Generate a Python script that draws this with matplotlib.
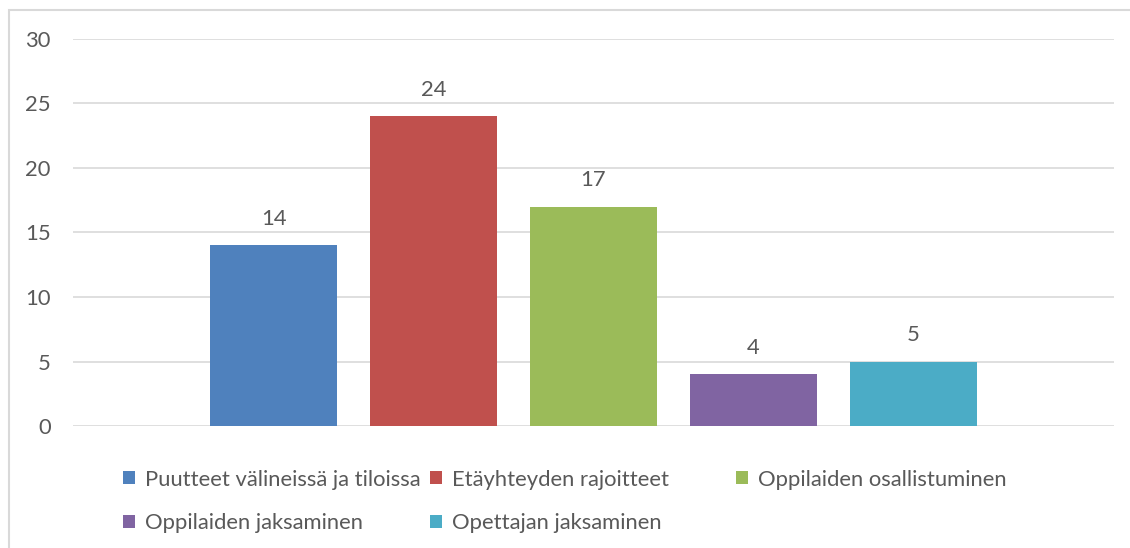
import matplotlib.pyplot as plt
from matplotlib.patches import Rectangle

# data
labels = ['Puutteet välineissä ja tiloissa', 'Etäyhteyden rajoitteet',
          'Oppilaiden osallistuminen', 'Oppilaiden jaksaminen', 'Opettajan jaksaminen']
values = [14, 24, 17, 4, 5]
colors = ['#4F81BD', '#C0504D', '#9BBB59', '#8064A2', '#4BACC6']
yticks = [0, 5, 10, 15, 20, 25, 30]

txt = '#595959'
grid = '#D9D9D9'
plt.rcParams['font.family'] = ['Lato', 'DejaVu Sans']
fs = 15.8

fig = plt.figure(figsize=(11.3, 5.48), dpi=100)
ax = fig.add_axes([73 / 1130, 1 - 426 / 548, (1114 - 73) / 1130, (426 - 39) / 548])

# outer chart border
fig.patches.append(Rectangle((9 / 1130, -0.5), 2, 0.5 + (1 - 10 / 548),
                             transform=fig.transFigure, fill=False,
                             edgecolor=grid, linewidth=1.5))

bars = []
for i, (lab, v, c) in enumerate(zip(labels, values, colors)):
    b = ax.bar(i, v, width=127 / 160, color=c, label=lab, zorder=3)
    bars.append(b)
    ax.annotate(str(v), (i, v), xytext=(0, 12), textcoords='offset points',
                ha='center', va='bottom', fontsize=fs, color=txt)

ax.set_xlim(2 - 3.256, 2 + 3.256)
ax.set_ylim(0, 30)
ax.set_yticks(yticks)
ax.set_xticks([])
ax.yaxis.grid(True, color=grid, linewidth=1.2, zorder=0)
ax.tick_params(axis='y', length=0, pad=16, labelsize=fs, labelcolor=txt)
for s in ax.spines.values():
    s.set_visible(False)

# Excel-style legend: equal column widths, three columns, two rows
cols = [[0, 3], [1, 4], [2]]
col_x = [116, 423, 729]
for xs, idx in zip(col_x, cols):
    lg = fig.legend([bars[k] for k in idx], [labels[k] for k in idx],
                    loc='upper left', bbox_to_anchor=(xs / 1130, 1 - 463 / 548),
                    frameon=False, fontsize=fs, labelcolor=txt,
                    handlelength=0.55, handleheight=0.55, handletextpad=0.45,
                    labelspacing=1.07, borderaxespad=0, borderpad=0.3)

fig.savefig('out.png', dpi=100, facecolor='white')
